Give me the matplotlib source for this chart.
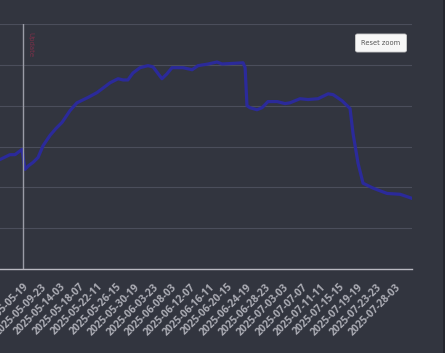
import matplotlib
matplotlib.use("Agg")
import matplotlib.pyplot as plt
from matplotlib.patches import Rectangle

# hours since 2025-05-05 19:00 and the series value
hours = [-150, -124, -70, -43, -5, 11, 30, 54, 81, 108, 145, 177, 210, 253, 290,
         349, 398, 468, 511, 538, 564, 591, 629, 672, 699, 747, 774, 801, 860,
         909, 941, 995, 1043, 1070, 1183, 1194, 1204, 1220, 1258, 1285, 1317,
         1366, 1409, 1435, 1489, 1532, 1586, 1640, 1667, 1715, 1758, 1774, 1801,
         1828, 1882, 1957, 2027, 2091]
values = [26.5, 26.8, 28.0, 28.0, 29.3, 24.4, 25.3, 26.1, 27.3, 30.2, 32.7, 34.4,
          35.9, 38.8, 40.7, 42.0, 43.2, 45.6, 46.6, 46.3, 46.3, 48.0, 49.3, 49.8,
          49.5, 46.6, 47.8, 49.3, 49.3, 48.8, 49.8, 50.2, 50.7, 50.2, 50.5, 49.3,
          40.0, 39.5, 39.0, 39.5, 41.0, 41.0, 40.5, 40.7, 41.7, 41.5, 41.7, 42.9,
          42.7, 41.2, 39.3, 33.2, 25.9, 21.0, 19.8, 18.5, 18.3, 17.3]

tick_hours = list(range(0, 2001, 100))
tick_labels = ["2025-05-05-19", "2025-05-09-23", "2025-05-14-03", "2025-05-18-07",
               "2025-05-22-11", "2025-05-26-15", "2025-05-30-19", "2025-06-03-23",
               "2025-06-08-03", "2025-06-12-07", "2025-06-16-11", "2025-06-20-15",
               "2025-06-24-19", "2025-06-28-23", "2025-07-03-03", "2025-07-07-07",
               "2025-07-11-11", "2025-07-15-15", "2025-07-19-19", "2025-07-23-23",
               "2025-07-28-03"]
marker_hour = 0
marker_label = "Update"

bg = "#32353f"
fig = plt.figure(figsize=(4.45, 3.53), dpi=100, facecolor=bg)
ax = fig.add_axes([-20 / 445, 84 / 353, 432 / 445, 245 / 353])
ax.set_facecolor(bg)

ax.plot(hours, values, color="#2b2a9a", lw=2.3, solid_joinstyle="round")
ax.set_xlim(-231, 2091)
ax.set_ylim(0, 60)
ax.set_yticks(range(0, 61, 10))
ax.yaxis.grid(True, color="#4b4e5b", lw=0.8)
ax.set_axisbelow(True)
for side in ["top", "right", "left"]:
    ax.spines[side].set_visible(False)
ax.spines["bottom"].set_color("#b9b9c1")
ax.spines["bottom"].set_linewidth(1)
ax.tick_params(axis="y", length=0, labelleft=False)
ax.tick_params(axis="x", length=0, pad=9)
ax.set_xticks(tick_hours)
ax.set_xticklabels(tick_labels, rotation=45, ha="right", va="top",
                   rotation_mode="anchor", fontsize=7.4, fontweight="bold",
                   color="#abacb4", family="Open Sans")

ax.axvline(marker_hour, color="#9a9ca6", lw=1)
ax.annotate(marker_label, xy=(marker_hour, 60), xytext=(3, -6),
            textcoords="offset points", rotation=-90, ha="left", va="top",
            fontsize=5, color="#7a3048")

fig.text(381 / 445, 1 - 43 / 353, "Reset zoom", ha="center", va="center",
         fontsize=4.8, color="#555555",
         bbox=dict(boxstyle="round,pad=0.9,rounding_size=0.3",
                   facecolor="#f7f7f7", edgecolor="#cccccc", lw=0.6))

fig.patches.append(Rectangle((443 / 445, 0), 2 / 445, 1, transform=fig.transFigure,
                             facecolor="#24262e", edgecolor="none"))

fig.savefig("out.png", dpi=100, facecolor=bg)
